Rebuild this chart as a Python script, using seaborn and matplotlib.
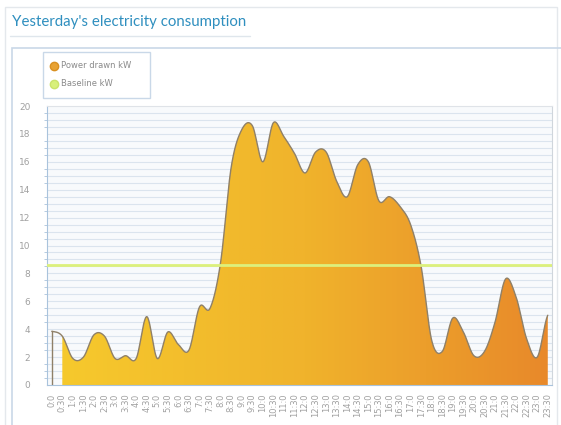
import numpy as np
import pandas as pd
import seaborn as sns
import matplotlib.pyplot as plt
from matplotlib.patches import Rectangle, Polygon
from matplotlib.lines import Line2D

# half-hour slots, labels as shown on the chart
slots = [f"{h}:{m}" for h in range(24) for m in ("0", "30")]
power_kw = [3.85, 3.5, 1.9, 2.0, 3.6, 3.5, 1.9, 2.1, 1.9, 4.9,
            1.9, 3.8, 2.9, 2.5, 5.6, 5.5, 8.8, 15.6, 18.3, 18.6,
            16.0, 18.8, 17.8, 16.6, 15.2, 16.7, 16.7, 14.6, 13.5, 15.8,
            16.0, 13.2, 13.5, 12.8, 11.5, 8.5, 3.2, 2.4, 4.8, 3.8,
            2.1, 2.4, 4.5, 7.6, 6.3, 3.3, 2.0, 5.0]
baseline_kw = 8.6
y_ticks = list(range(0, 21, 2))

title = "Yesterday's electricity consumption"


def catmull_rom(y, n=24):
    # smooth curve through the points, like the charting lib's spline
    y = np.asarray(y, float)
    p = np.concatenate([[y[0]], y, [y[-1]]])
    xs, ys = [], []
    for i in range(len(y) - 1):
        p0, p1, p2, p3 = p[i], p[i + 1], p[i + 2], p[i + 3]
        t = np.linspace(0, 1, n, endpoint=False)
        v = 0.5 * (2 * p1 + (-p0 + p2) * t + (2 * p0 - 5 * p1 + 4 * p2 - p3) * t ** 2
                   + (-p0 + 3 * p1 - 3 * p2 + p3) * t ** 3)
        xs.append(i + t)
        ys.append(v)
    xs.append([len(y) - 1])
    ys.append([y[-1]])
    return np.concatenate(xs), np.concatenate(ys)


sx, sy = catmull_rom(power_kw)
sy = np.clip(sy, 0, None)
curve = pd.DataFrame({"slot": sx, "kw": sy})

sns.set_style("white")
plt.rcParams['font.family'] = ['DejaVu Sans']

fig = plt.figure(figsize=(5.61, 4.25), dpi=100)
W, H = 561, 425


def fx(px):
    return px / W


def fy(py):
    return 1 - py / H


# page decorations
fig.add_artist(Rectangle((fx(5), fy(430)), fx(552), fy(7) - fy(430), transform=fig.transFigure,
                         fill=False, ec="#e4e8ec", lw=1))
fig.text(fx(12), fy(22), title, color="#2f8fbf", fontsize=10.8, family="Lato", va="center")
fig.add_artist(Line2D([fx(10), fx(250)], [fy(36), fy(36)], transform=fig.transFigure,
                      color="#dfe6ec", lw=1))
fig.add_artist(Rectangle((fx(12), fy(430)), fx(560), fy(48) - fy(430), transform=fig.transFigure,
                         fill=False, ec="#c9d8e8", lw=1.2))

ax = fig.add_axes([fx(47), fy(385), fx(552) - fx(47), fy(106) - fy(385)])
ax.set_facecolor("#f8fafc")
ax.set_xlim(-0.45, 47.4)
ax.set_ylim(0, 20)

for v in np.arange(0.5, 20, 0.5):
    ax.axhline(v, color="#dbe4ee", lw=0.8, zorder=0)

# gradient fill from 0:30 onward
mask = sx >= 1
verts = np.column_stack([np.r_[1, sx[mask], sx[-1]], np.r_[0, sy[mask], 0]])
poly = Polygon(verts, closed=True, facecolor="none", edgecolor="none")
ax.add_patch(poly)
grad = np.linspace(0, 1, 256)[None, :]
cmap = plt.matplotlib.colors.LinearSegmentedColormap.from_list(
    "fillgrad", ["#f6c92c", "#f0b32c", "#e8892a"])
im = ax.imshow(grad, cmap=cmap, aspect="auto", extent=[1, 47, 0, 20], zorder=2)
im.set_clip_path(poly)

sns.lineplot(data=curve, x="slot", y="kw", ax=ax, color="#8f8068", lw=1, zorder=3)
ax.plot([0, 0], [0, power_kw[0]], color="#8f8068", lw=1, zorder=3)

ax.axhline(baseline_kw, color="#dcf07c", lw=2, zorder=4)

ax.set_xticks(range(len(slots)))
ax.set_xticklabels(slots, rotation=90, fontsize=6, color="#a0a0a0")
ax.set_yticks(y_ticks)
ax.set_yticklabels([str(t) for t in y_ticks], fontsize=6.5, color="#a0a0a0")
ax.set_yticks(np.arange(0, 20.01, 0.5), minor=True)
ax.tick_params(axis="y", which="major", length=4, color="#a9c3dc", pad=8)
ax.tick_params(axis="y", which="minor", length=2, color="#a9c3dc", left=True)
ax.tick_params(axis="x", length=3, color="#c9d8e8", pad=3)
ax.set_xlabel("")
ax.set_ylabel("")
for side in ("left", "bottom"):
    ax.spines[side].set_color("#a9c3dc")
ax.spines["top"].set_color("#dfe3e8")
ax.spines["right"].set_color("#d0d6dc")

# legend box
fig.add_artist(Rectangle((fx(43), fy(98)), fx(107), fy(52) - fy(98), transform=fig.transFigure,
                         fill=True, fc="white", ec="#c9d8e8", lw=1))
fig.add_artist(Line2D([fx(54)], [fy(66)], transform=fig.transFigure, marker="o", ms=6,
                      color="#e8a232", mec="#d99020"))
fig.add_artist(Line2D([fx(54)], [fy(84)], transform=fig.transFigure, marker="o", ms=6,
                      color="#d8f07a", mec="#cbe36a"))
fig.text(fx(61), fy(66), "Power drawn kW", fontsize=6, color="#8a8a8a", va="center")
fig.text(fx(61), fy(84), "Baseline kW", fontsize=6, color="#8a8a8a", va="center")

fig.savefig("out.png", dpi=100)
